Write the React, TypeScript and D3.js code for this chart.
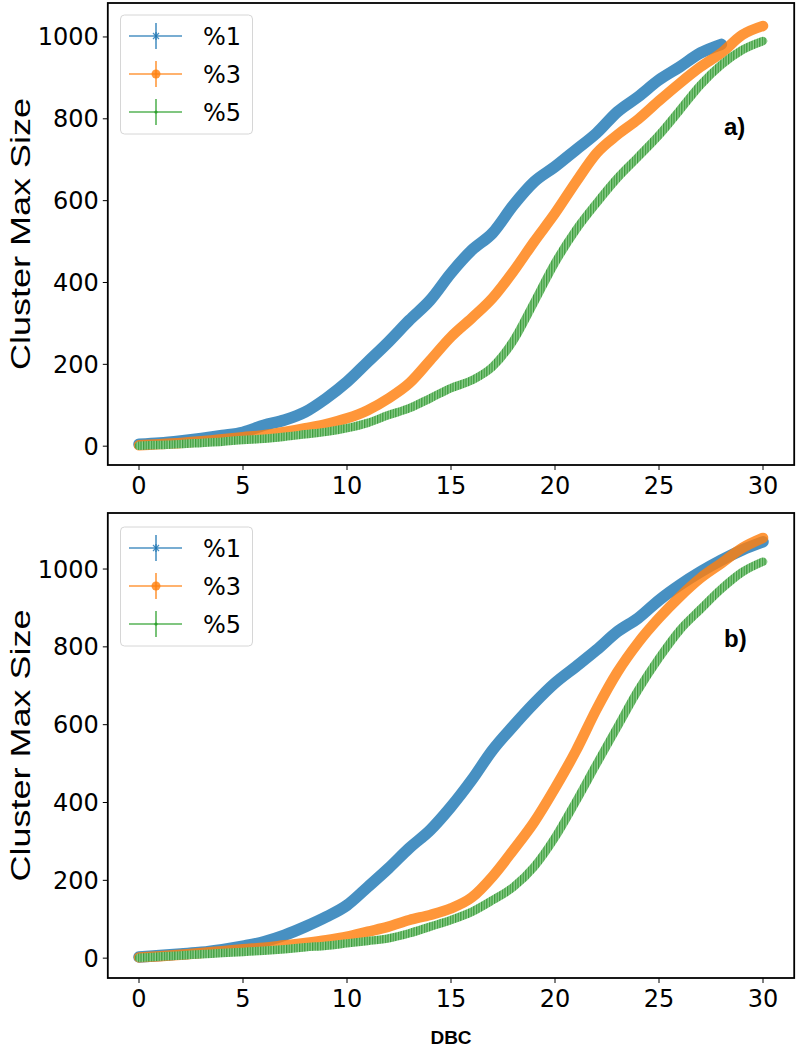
import React from "react";
import * as d3 from "d3";

const dbc = d3.range(0, 31);

// Panel a)
const aP1 = [5, 8, 13, 19, 26, 34, 51, 64, 84, 117, 157, 206, 255, 308, 357, 423, 479, 521, 589, 646, 683, 724, 765, 817, 854, 895, 927, 961, 982];
const aP3 = [2, 5, 8, 12, 17, 22, 27, 35, 44, 54, 68, 88, 117, 154, 210, 267, 313, 362, 427, 500, 569, 645, 716, 761, 799, 844, 887, 927, 961, 1005, 1027];
const aP5 = [1, 3, 5, 8, 11, 15, 18, 23, 29, 35, 44, 57, 76, 93, 117, 142, 161, 194, 258, 352, 448, 528, 594, 655, 707, 760, 821, 883, 932, 968, 990];

// Panel b)
const bP1 = [3, 7, 11, 15, 22, 31, 42, 59, 81, 106, 136, 183, 231, 283, 329, 389, 458, 535, 597, 655, 707, 749, 792, 839, 874, 920, 959, 993, 1023, 1049, 1070];
const bP3 = [2, 5, 9, 13, 18, 23, 27, 33, 39, 46, 55, 68, 81, 98, 111, 128, 156, 210, 278, 350, 437, 532, 640, 735, 811, 874, 929, 977, 1015, 1054, 1080];
const bP5 = [1, 4, 7, 10, 13, 16, 19, 23, 28, 32, 38, 44, 51, 64, 81, 98, 119, 149, 183, 235, 310, 402, 499, 594, 689, 771, 843, 897, 949, 992, 1019];

const xTicks = [0, 5, 10, 15, 20, 25, 30];
const yTicks = [0, 200, 400, 600, 800, 1000];
const seriesNames = ["%1", "%3", "%5"];
const panelLabels = ["a)", "b)"];

const BLUE = "#1f77b4";
const ORANGE = "#ff7f0e";
const GREEN = "#2ca02c";

const X0 = 107.8;
const X1 = 794.2;
const x = d3.scaleLinear().domain([-1.5, 31.5]).range([X0, X1]);

const TICK_FONT = "'DejaVu Sans', sans-serif";
const LABEL_FONT = "'Liberation Sans', Arial, sans-serif";

type PanelProps = {
  top: number;
  bottom: number;
  yDomain: [number, number];
  data: number[][];
  label: string;
  legendTop: number;
  labelY: number;
};

function Panel({ top, bottom, yDomain, data, label, legendTop, labelY }: PanelProps) {
  const y = d3.scaleLinear().domain(yDomain).range([bottom, top]);
  const line = (vals: number[]) =>
    d3
      .line<number>()
      .x((_, i) => x(dbc[i]))
      .y((v) => y(v))
      .curve(d3.curveMonotoneX)(vals) || "";
  const colors = [BLUE, ORANGE, GREEN];
  const widths = [11.5, 10.5, 8.5];
  const entryY = [legendTop + 21, legendTop + 59, legendTop + 97];
  return (
    <g>
      {data.map((vals, k) =>
        k < 2 ? (
          <path
            key={k}
            d={line(vals)}
            fill="none"
            stroke={colors[k]}
            strokeOpacity={0.82}
            strokeWidth={widths[k]}
            strokeLinecap="round"
            strokeLinejoin="round"
          />
        ) : (
          <path
            key={k}
            d={line(vals)}
            fill="none"
            stroke="url(#hatch)"
            strokeWidth={widths[k]}
            strokeLinecap="round"
            strokeLinejoin="round"
          />
        )
      )}
      <rect x={X0} y={top} width={X1 - X0} height={bottom - top} fill="none" stroke="#000" strokeWidth={1.8} />
      {xTicks.map((t) => (
        <g key={t}>
          <line x1={x(t)} x2={x(t)} y1={bottom} y2={bottom + 5} stroke="#000" strokeWidth={1} />
          <text x={x(t)} y={bottom + 29} textAnchor="middle" fontFamily={TICK_FONT} fontSize={24} fill="#000">
            {t}
          </text>
        </g>
      ))}
      {yTicks.map((t) => (
        <g key={t}>
          <line x1={X0 - 5} x2={X0} y1={y(t)} y2={y(t)} stroke="#000" strokeWidth={1} />
          <text x={X0 - 9} y={y(t) + 8.5} textAnchor="end" fontFamily={TICK_FONT} fontSize={24} fill="#000">
            {t}
          </text>
        </g>
      ))}
      <text
        transform={`translate(30,${(top + bottom) / 2}) rotate(-90)`}
        textAnchor="middle"
        fontFamily={LABEL_FONT}
        fontSize={27}
        textLength={272}
        lengthAdjust="spacingAndGlyphs"
        fill="#000"
      >
        Cluster Max Size
      </text>
      <text x={724} y={labelY} fontFamily={LABEL_FONT} fontWeight="bold" fontSize={24} fill="#000">
        {label}
      </text>
      <rect x={120.5} y={legendTop} width={132} height={119} rx={4} fill="#fff" fillOpacity={0.8} stroke="#d6d6d6" strokeWidth={1} />
      {seriesNames.map((n, k) => {
        const ey = entryY[k];
        const c = colors[k];
        return (
          <g key={n}>
            <line x1={129} x2={182} y1={ey} y2={ey} stroke={c} strokeOpacity={0.8} strokeWidth={1.6} />
            <line x1={156} x2={156} y1={ey - 13} y2={ey + 13} stroke={c} strokeOpacity={0.8} strokeWidth={1.6} />
            {k === 0 && (
              <g stroke={c} strokeOpacity={0.8} strokeWidth={1.3}>
                <line x1={153} x2={159} y1={ey - 3} y2={ey + 3} />
                <line x1={153} x2={159} y1={ey + 3} y2={ey - 3} />
                <line x1={156} x2={156} y1={ey - 4} y2={ey + 4} />
              </g>
            )}
            {k === 1 && <circle cx={156} cy={ey} r={4.5} fill={c} fillOpacity={0.8} />}
            {k === 2 && <circle cx={156} cy={ey} r={1.6} fill={c} />}
            <text x={203} y={ey + 8.5} fontFamily={TICK_FONT} fontSize={24} fill="#000">
              {n}
            </text>
          </g>
        );
      })}
    </g>
  );
}

export default function App() {
  return (
    <svg width={798} height={1050} style={{ position: "absolute", left: 0, top: 0, background: "#fff" }}>
      <defs>
        <pattern id="hatch" patternUnits="userSpaceOnUse" width={2.6} height={6}>
          <rect x={0} y={0} width={2.6} height={6} fill="#8fcf8f" />
          <rect x={0} y={0} width={1.3} height={6} fill="#3c9c3c" />
        </pattern>
      </defs>
      <rect x={0} y={0} width={798} height={1050} fill="#fff" />
      <Panel
        top={3}
        bottom={465}
        yDomain={[-46, 1083]}
        data={[aP1, aP3, aP5]}
        label={panelLabels[0]}
        legendTop={15}
        labelY={135}
      />
      <Panel
        top={513}
        bottom={978}
        yDomain={[-51, 1144]}
        data={[bP1, bP3, bP5]}
        label={panelLabels[1]}
        legendTop={527}
        labelY={647}
      />
      <text x={451} y={1044} textAnchor="middle" fontFamily={LABEL_FONT} fontWeight="bold" fontSize={19} fill="#000">
        DBC
      </text>
    </svg>
  );
}
